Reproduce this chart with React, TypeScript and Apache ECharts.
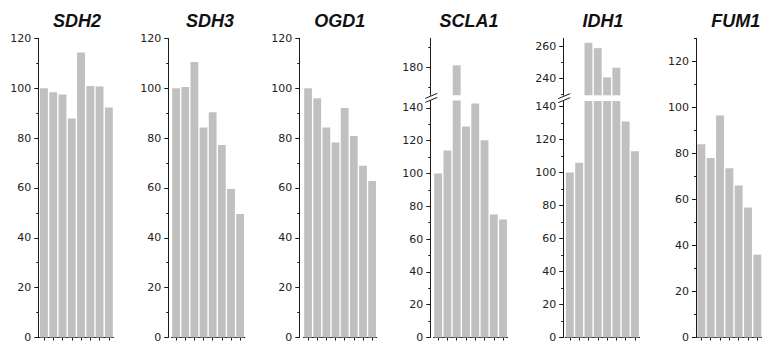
import React, { useEffect, useRef } from "react";
import * as echarts from "echarts";

// ---------- data ----------
const categories = ["1", "2", "3", "4", "5", "6", "7", "8"];
const titles = ["SDH2", "SDH3", "OGD1", "SCLA1", "IDH1", "FUM1"];

const sdh2 = [100, 98.4, 97.5, 87.8, 114.3, 100.9, 100.7, 92.2];
const sdh3 = [100, 100.5, 110.5, 84.2, 90.3, 77.2, 59.6, 49.5];
const ogd1 = [100, 96, 84.2, 78.2, 92, 80.8, 68.9, 62.8];
const scla1 = [100, 114, 181, 128.6, 142.6, 120.2, 75, 72];
const idh1 = [100, 106, 262, 258.7, 240.6, 246.6, 131, 113];
const fum1 = [84, 78, 96.5, 73.5, 66, 56.5, 36, 35];

const ticksMain = [0, 20, 40, 60, 80, 100, 120];
const ticksMainMinor = [10, 30, 50, 70, 90, 110];
const ticksLower = [0, 20, 40, 60, 80, 100, 120, 140];
const ticksLowerMinor = [10, 30, 50, 70, 90, 110, 130];
const ticksFum = [0, 20, 40, 60, 80, 100, 120];
const ticksFumMinor = [10, 30, 50, 70, 90, 110, 130];
const ticksSclaUpper = [180];
const ticksSclaUpperMinor = [170, 190];
const ticksIdhUpper = [240, 260];
const ticksIdhUpperMinor = [230, 250];

// ---------- layout ----------
const AX = "#1a1a1a";
const BAR = "#c0c0c0";
const TOP = 38.3;
const ZERO = 337.5;

type Seg = { min: number; max: number; top: number; bottom: number; major: number[]; minor: number[] };
type Panel = { title: string; data: number[]; left: number; width: number; offset: number; lower: Seg; upper?: Seg };

const panels: Panel[] = [
  { title: titles[0], data: sdh2, left: 39.3, width: 74.2, offset: 1, lower: { min: 0, max: 120, top: TOP, bottom: ZERO, major: ticksMain, minor: ticksMainMinor } },
  { title: titles[1], data: sdh3, left: 171.5, width: 73.2, offset: 3.2, lower: { min: 0, max: 120, top: TOP, bottom: ZERO, major: ticksMain, minor: ticksMainMinor } },
  { title: titles[2], data: ogd1, left: 303.5, width: 73.2, offset: 4.2, lower: { min: 0, max: 120, top: TOP, bottom: ZERO, major: ticksMain, minor: ticksMainMinor } },
  {
    title: titles[3], data: scla1, left: 433.5, width: 74.2, offset: 3.2,
    lower: { min: 0, max: 144.5, top: 100.5, bottom: ZERO, major: ticksLower, minor: ticksLowerMinor },
    upper: { min: 166, max: 194.5, top: TOP, bottom: 95.3, major: ticksSclaUpper, minor: ticksSclaUpperMinor },
  },
  {
    title: titles[4], data: idh1, left: 565.2, width: 74.4, offset: 2,
    lower: { min: 0, max: 143.4, top: 101, bottom: ZERO, major: ticksLower, minor: ticksLowerMinor },
    upper: { min: 229.5, max: 264.8, top: TOP, bottom: 95.3, major: ticksIdhUpper, minor: ticksIdhUpperMinor },
  },
  { title: titles[5], data: fum1, left: 696.7, width: 74.6, offset: 0.7, lower: { min: 0, max: 130, top: TOP, bottom: ZERO, major: ticksFum, minor: ticksFumMinor } },
];

const titleCenters = [77, 210, 339.7, 469, 603, 735.8];

function buildOption() {
  const grid: any[] = [];
  const xAxis: any[] = [];
  const yAxis: any[] = [];
  const series: any[] = [];
  const graphic: any[] = [];

  const addGrid = (p: Panel, seg: Seg, isLower: boolean, data: any[]) => {
    const gi = grid.length;
    grid.push({ left: p.left, width: p.width, top: seg.top, height: seg.bottom - seg.top, containLabel: false });
    xAxis.push({
      type: "category",
      gridIndex: gi,
      data: categories,
      show: isLower,
      boundaryGap: true,
      axisLine: { show: true, lineStyle: { color: AX, width: 1 } },
      axisTick: { show: true, alignWithLabel: true, length: 3, lineStyle: { color: AX } },
      axisLabel: { show: false },
      splitLine: { show: false },
    });
    const yMain = yAxis.length;
    yAxis.push({
      type: "value",
      gridIndex: gi,
      position: "left",
      offset: p.offset,
      min: seg.min,
      max: seg.max,
      axisLine: { show: true, lineStyle: { color: AX, width: 1 } },
      axisTick: { show: true, length: 4, customValues: seg.major, lineStyle: { color: AX } },
      axisLabel: { show: true, customValues: seg.major, margin: 7, fontSize: 11, fontFamily: "DejaVu Sans", color: "#222" },
      splitLine: { show: false },
    });
    yAxis.push({
      type: "value",
      gridIndex: gi,
      position: "left",
      offset: p.offset,
      min: seg.min,
      max: seg.max,
      axisLine: { show: false },
      axisTick: { show: true, length: 2, customValues: seg.minor, lineStyle: { color: AX } },
      axisLabel: { show: false },
      splitLine: { show: false },
    });
    series.push({
      type: "bar",
      xAxisIndex: gi,
      yAxisIndex: yMain,
      data,
      barCategoryGap: "15%",
      clip: true,
      itemStyle: { color: BAR },
      silent: true,
    });
  };

  panels.forEach((p) => {
    addGrid(p, p.lower, true, p.data);
    if (p.upper) {
      const up = p.upper;
      addGrid(p, up, false, p.data.map((v) => (v > up.min ? v : "-")));
      const ax = p.left - p.offset;
      const y0 = (up.bottom + p.lower.top) / 2;
      graphic.push({ type: "line", shape: { x1: ax - 5, y1: y0 + 0.5, x2: ax + 7, y2: y0 - 4.5 }, style: { stroke: AX, lineWidth: 1 } });
      graphic.push({ type: "line", shape: { x1: ax - 5, y1: y0 + 4.5, x2: ax + 7, y2: y0 - 0.5 }, style: { stroke: AX, lineWidth: 1 } });
    }
  });

  panels.forEach((p, i) => {
    graphic.push({
      type: "text",
      x: titleCenters[i],
      y: 20.5,
      style: {
        text: p.title,
        fontSize: 18,
        fontWeight: "bold",
        fontStyle: "italic",
        fontFamily: "Liberation Sans",
        fill: "#111",
        textAlign: "center",
        textVerticalAlign: "middle",
      },
    });
  });

  return { animation: false, backgroundColor: "#fff", grid, xAxis, yAxis, series, graphic };
}

export default function App() {
  const ref = useRef<HTMLDivElement>(null);
  useEffect(() => {
    document.body.style.margin = "0";
    document.body.style.overflow = "hidden";
    document.documentElement.style.overflow = "hidden";
    if (!ref.current) return;
    const chart = echarts.init(ref.current, null, { renderer: "svg" });
    chart.setOption(buildOption() as any);
    return () => chart.dispose();
  }, []);
  return (
    <div style={{ width: 762, height: 343, overflow: "hidden" }}>
      <div ref={ref} style={{ width: 800, height: 343 }} />
    </div>
  );
}
